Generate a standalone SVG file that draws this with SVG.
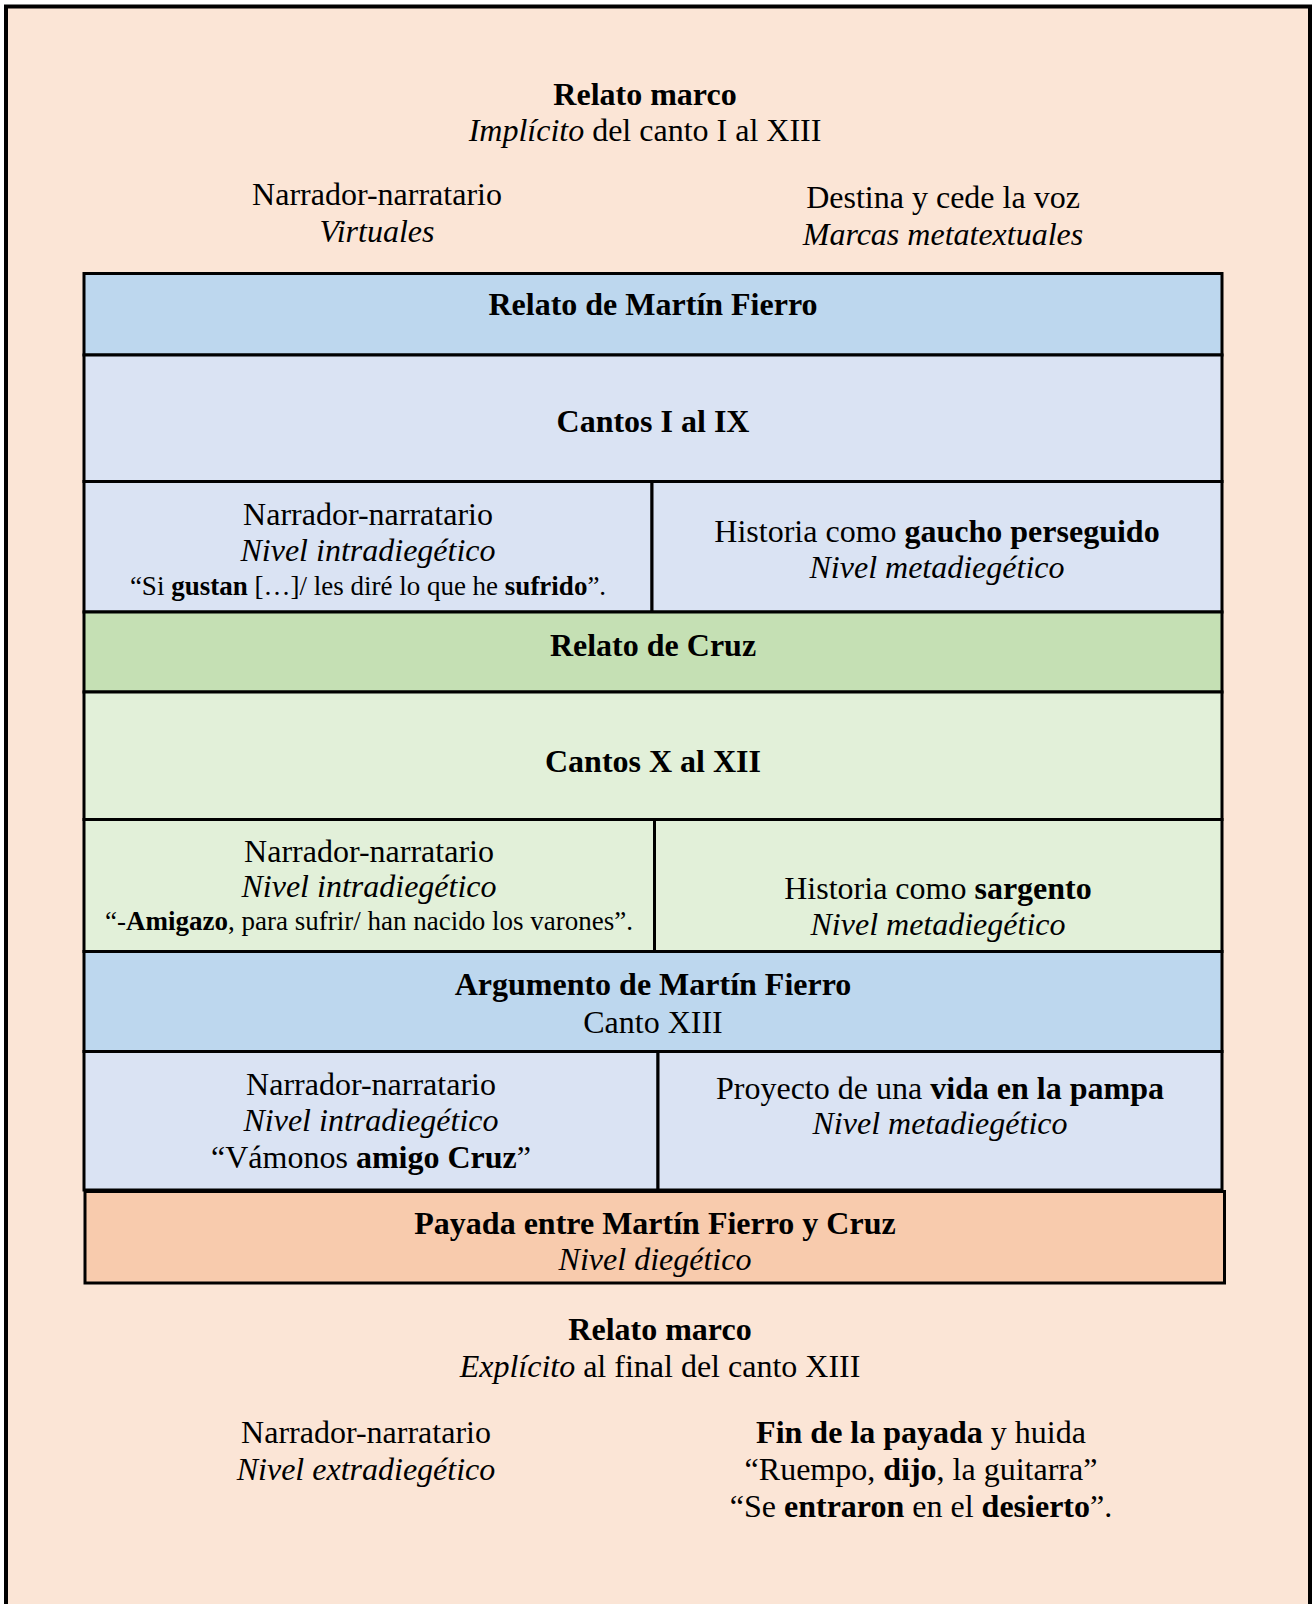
<svg xmlns="http://www.w3.org/2000/svg" width="1312" height="1604" viewBox="0 0 1312 1604">
<style>
text{font-family:"Liberation Serif","Times New Roman",serif;font-size:32px;fill:#000;text-anchor:middle}
.b{font-weight:bold}
.i{font-style:italic}
.q{font-size:27px}
.cell{stroke:#000;stroke-width:3}
.hb{fill:#BDD7EE}
.lb{fill:#DAE3F3}
.hg{fill:#C5E0B4}
.lg{fill:#E2F0D9}
.or{fill:#F8CBAD}
</style>
<rect x="6" y="6.5" width="1304" height="1700" fill="#FBE5D6" stroke="#000" stroke-width="4"/>
<g id="relato-marco-top">
<text x="645" y="105" class="b">Relato marco</text>
<text x="645" y="141"><tspan class="i">Implícito</tspan> del canto I al XIII</text>
</g>
<g id="top-left">
<text x="377" y="205">Narrador-narratario</text>
<text x="377" y="242" class="i">Virtuales</text>
</g>
<g id="top-right">
<text x="943" y="208">Destina y cede la voz</text>
<text x="943" y="245" class="i">Marcas metatextuales</text>
</g>
<g id="relato-mf">
<rect class="cell hb" x="84" y="273.5" width="1138" height="81.5"/>
<text x="653" y="315" class="b">Relato de Martín Fierro</text>
</g>
<g id="cantos-1-9">
<rect class="cell lb" x="84" y="355" width="1138" height="126.5"/>
<text x="653" y="432" class="b">Cantos I al IX</text>
</g>
<g id="mf-narrador">
<rect class="cell lb" x="84" y="481.5" width="568" height="130.5"/>
<text x="368" y="525">Narrador-narratario</text>
<text x="368" y="561" class="i">Nivel intradiegético</text>
<text x="368" y="595" class="q">“Si <tspan class="b">gustan</tspan> […]/ les diré lo que he <tspan class="b">sufrido</tspan>”.</text>
</g>
<g id="mf-historia">
<rect class="cell lb" x="652" y="481.5" width="570" height="130.5"/>
<text x="937" y="542">Historia como <tspan class="b">gaucho perseguido</tspan></text>
<text x="937" y="578" class="i">Nivel metadiegético</text>
</g>
<g id="relato-cruz">
<rect class="cell hg" x="84" y="612" width="1138" height="80"/>
<text x="653" y="656" class="b">Relato de Cruz</text>
</g>
<g id="cantos-10-12">
<rect class="cell lg" x="84" y="692" width="1138" height="127.5"/>
<text x="653" y="772" class="b">Cantos X al XII</text>
</g>
<g id="cruz-narrador">
<rect class="cell lg" x="84" y="819.5" width="570.5" height="132"/>
<text x="369" y="862">Narrador-narratario</text>
<text x="369" y="897" class="i">Nivel intradiegético</text>
<text x="369" y="930" class="q">“-<tspan class="b">Amigazo</tspan>, para sufrir/ han nacido los varones”.</text>
</g>
<g id="cruz-historia">
<rect class="cell lg" x="654.5" y="819.5" width="567.5" height="132"/>
<text x="938" y="899">Historia como <tspan class="b">sargento</tspan></text>
<text x="938" y="935" class="i">Nivel metadiegético</text>
</g>
<g id="argumento">
<rect class="cell hb" x="84" y="951.5" width="1138" height="100"/>
<text x="653" y="995" class="b">Argumento de Martín Fierro</text>
<text x="653" y="1033">Canto XIII</text>
</g>
<g id="arg-narrador">
<rect class="cell lb" x="84" y="1051.5" width="574" height="138.5"/>
<text x="371" y="1095">Narrador-narratario</text>
<text x="371" y="1131" class="i">Nivel intradiegético</text>
<text x="371" y="1168">“Vámonos <tspan class="b">amigo Cruz</tspan>”</text>
</g>
<g id="arg-proyecto">
<rect class="cell lb" x="658" y="1051.5" width="564" height="138.5"/>
<text x="940" y="1099">Proyecto de una <tspan class="b">vida en la pampa</tspan></text>
<text x="940" y="1134" class="i">Nivel metadiegético</text>
</g>
<g id="payada">
<rect class="cell or" x="85" y="1191.5" width="1139.5" height="91.5"/>
<text x="655" y="1234" class="b">Payada entre Martín Fierro y Cruz</text>
<text x="655" y="1270" class="i">Nivel diegético</text>
</g>
<g id="relato-marco-bottom">
<text x="660" y="1340" class="b">Relato marco</text>
<text x="660" y="1377"><tspan class="i">Explícito</tspan> al final del canto XIII</text>
</g>
<g id="bottom-left">
<text x="366" y="1443">Narrador-narratario</text>
<text x="366" y="1480" class="i">Nivel extradiegético</text>
</g>
<g id="bottom-right">
<text x="921" y="1443"><tspan class="b">Fin de la payada</tspan> y huida</text>
<text x="921" y="1480">“Ruempo, <tspan class="b">dijo</tspan>, la guitarra”</text>
<text x="921" y="1517">“Se <tspan class="b">entraron</tspan> en el <tspan class="b">desierto</tspan>”.</text>
</g>
<g id="connectors"></g>
</svg>
